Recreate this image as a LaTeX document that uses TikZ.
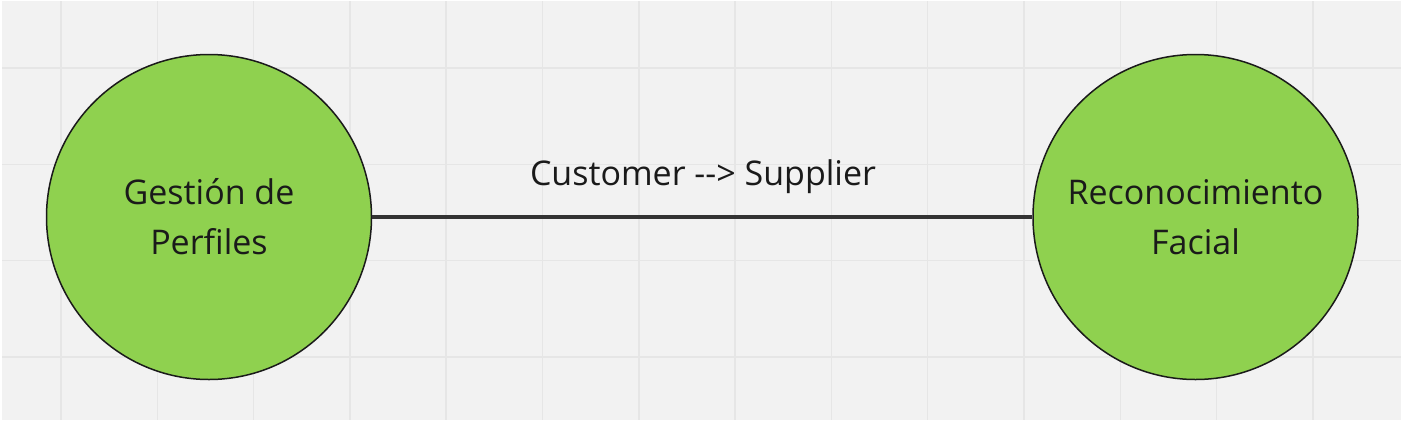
\documentclass[tikz,border=0pt]{standalone}
\usepackage{fontspec}
\setmainfont{Open Sans}
\usepackage{tikz}
\usepackage{xcolor}
\usetikzlibrary{positioning}

\definecolor{boardgray}{HTML}{F2F2F2}
\definecolor{gridgray}{HTML}{E6E6E6}
\definecolor{ctxgreen}{HTML}{8FD14F}
\definecolor{inkdark}{HTML}{1A1A1A}
\definecolor{linkgray}{HTML}{333333}

\tikzset{
  context/.style={circle, draw=inkdark, line width=1.5pt, fill=ctxgreen,
    minimum size=325pt, inner sep=0pt, align=center, text=inkdark,
    font=\fontsize{34}{50}\selectfont},
  relation/.style={text=inkdark, anchor=base, font=\fontsize{34}{40}\selectfont}
}

\begin{document}
\begin{tikzpicture}[x=1pt,y=-1pt]
  % board
  \fill[white] (0,0) rectangle (1403,424);
  \useasboundingbox (0,0) rectangle (1403,424);
  \fill[boardgray] (2,1) rectangle (1401,420);
  % grid
  \foreach \i in {0,...,13}
    \draw[gridgray,line width=1.5pt] (61+96.3*\i,1) -- (61+96.3*\i,420);
  \foreach \j in {0,...,3}
    \draw[gridgray,line width=1.5pt] (2,68+96.3*\j) -- (1401,68+96.3*\j);
  % bounded contexts
  \node[context] (perfiles) at (209,217) {Gestión de\\Perfiles};
  \node[context] (facial) at (1195.5,217) {Reconocimiento\\Facial};
  % relation
  \draw[linkgray,line width=3.5pt] (perfiles) -- (facial);
  \node[relation] (rel) at (703,185) {Customer {-}{-}> Supplier};
\end{tikzpicture}
\end{document}
